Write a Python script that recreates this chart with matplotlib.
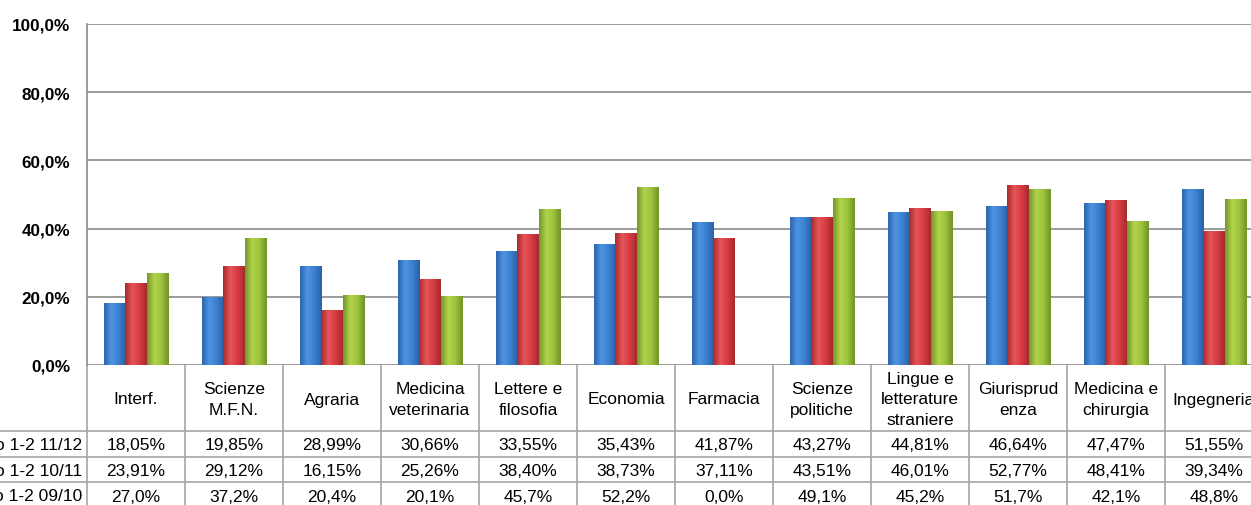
import numpy as np
import matplotlib.pyplot as plt
from matplotlib.colors import LinearSegmentedColormap
from matplotlib.transforms import blended_transform_factory

plt.rcParams['font.family'] = ['Liberation Sans', 'DejaVu Sans']

# Dati
facolta = ['Interf.', 'Scienze\nM.F.N.', 'Agraria', 'Medicina\nveterinaria',
           'Lettere e\nfilosofia', 'Economia', 'Farmacia', 'Scienze\npolitiche',
           'Lingue e\nletterature\nstraniere', 'Giurisprud\nenza',
           'Medicina e\nchirurgia', 'Ingegneria']
serie = ['Tasso 1-2 11/12', 'Tasso 1-2 10/11', 'Tasso 1-2 09/10']
v1112 = [18.05, 19.85, 28.99, 30.66, 33.55, 35.43, 41.87, 43.27, 44.81, 46.64, 47.47, 51.55]
v1011 = [23.91, 29.12, 16.15, 25.26, 38.40, 38.73, 37.11, 43.51, 46.01, 52.77, 48.41, 39.34]
v0910 = [27.0, 37.2, 20.4, 20.1, 45.7, 52.2, 0.0, 49.1, 45.2, 51.7, 42.1, 48.8]
decimali = [2, 2, 1]
yticks = [0, 20, 40, 60, 80, 100]

# gradient colours (edge, light, main, edge) for the cylinder look
colori = [
    ['#2d64ae', '#4d94e2', '#3b80d0', '#2b60a6'],
    ['#a82a2e', '#e65458', '#d63c40', '#a42a2e'],
    ['#74962a', '#b2d44c', '#9cc23e', '#729226'],
]

W, H = 1251, 506
fig = plt.figure(figsize=(W / 100, H / 100), dpi=100)
x_left, x_right, y_top, y_bot = 87, 1263, 25, 366
ax = fig.add_axes([x_left / W, 1 - y_bot / H, (x_right - x_left) / W, (y_bot - y_top) / H])

grid_col = '#8a8a8a'
line_col = '#a6a6a6'

x = np.arange(len(facolta))
w = 0.215
valori = [v1112, v1011, v0910]
for k, vals in enumerate(valori):
    cmap = LinearSegmentedColormap.from_list('c%d' % k, colori[k])
    grad = np.linspace(0, 1, 64).reshape(1, -1)
    bars = ax.bar(x + (k - 1) * w, vals, width=w, color=colori[k][2], zorder=3,
                  linewidth=0)
    for b in bars:
        if b.get_height() <= 0:
            continue
        x0, h = b.get_x(), b.get_height()
        im = ax.imshow(grad, extent=[x0, x0 + b.get_width(), 0, h], aspect='auto',
                       cmap=cmap, zorder=4, interpolation='bicubic')
        im.set_clip_path(b)

ax.set_xlim(-0.5, len(facolta) - 0.5)
ax.set_ylim(0, 100)
ax.set_yticks(yticks)
ax.set_yticklabels([('%.1f%%' % t).replace('.', ',') for t in yticks],
                   fontsize=12.3, fontweight='bold')
ax.tick_params(axis='y', length=0, pad=12)
ax.set_xticks([])
ax.grid(axis='y', color=grid_col, linewidth=1.2, zorder=0)
for s in ['top', 'right', 'bottom']:
    ax.spines[s].set_visible(False)
ax.spines['left'].set_color(grid_col)
ax.spines['left'].set_linewidth(1.2)

# data table below the plot
trans = blended_transform_factory(ax.transData, ax.transAxes)


def ay(py):
    return (y_bot - py) / (y_bot - y_top)


righe_y = [432, 458, 483, 509]
fondo = ay(520)
for i in range(len(facolta) + 1):
    ax.plot([i - 0.5, i - 0.5], [0, fondo], color=line_col, lw=1.2,
            transform=trans, clip_on=False)
for py in righe_y:
    ax.plot([-0.5 - 87 / 98, len(facolta) - 0.5], [ay(py), ay(py)], color=line_col,
            lw=1.2, transform=trans, clip_on=False)

for i, nome in enumerate(facolta):
    ax.text(i, ay(400), nome, transform=trans, ha='center', va='center',
            fontsize=12.5, linespacing=1.42)

for r, vals in enumerate(valori):
    cy = ay((righe_y[r] + righe_y[r + 1]) / 2 + 1)
    for i, v in enumerate(vals):
        testo = ('%.*f%%' % (decimali[r], v)).replace('.', ',')
        ax.text(i, cy, testo, transform=trans, ha='center', va='center', fontsize=12.5)
    fig.text(82 / W, 1 - ((righe_y[r] + righe_y[r + 1]) / 2 + 1) / H, serie[r],
             ha='right', va='center', fontsize=12.5)

fig.savefig('out.png', dpi=100)
